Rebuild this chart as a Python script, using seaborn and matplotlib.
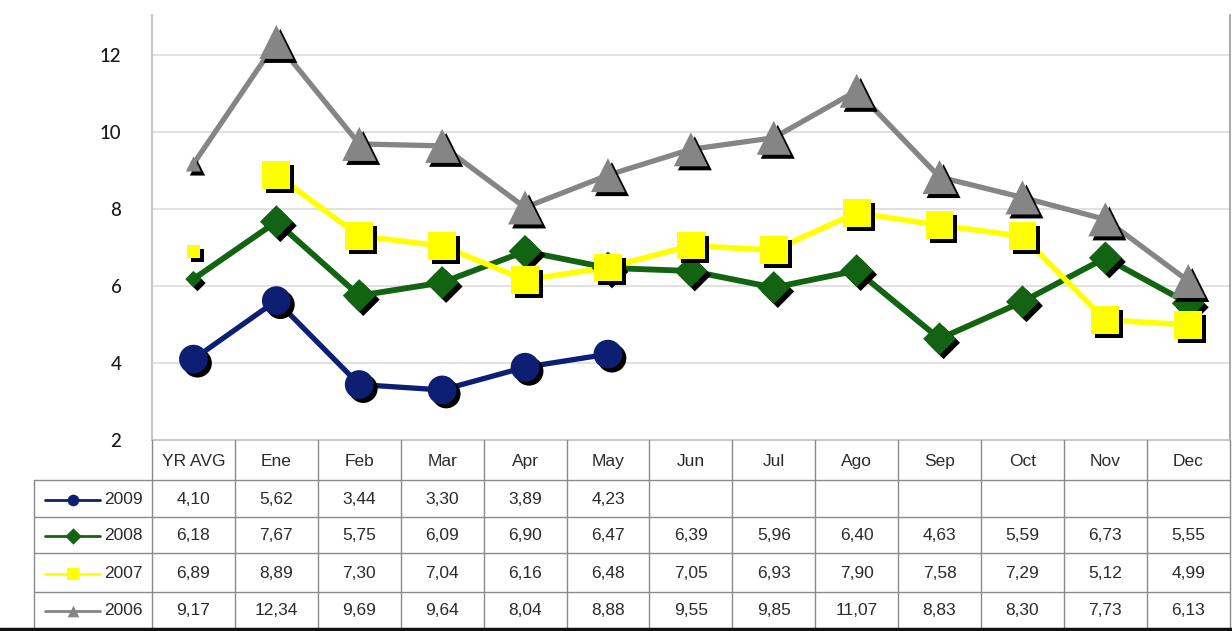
import numpy as np
import pandas as pd
import matplotlib
matplotlib.use("Agg")
import matplotlib.pyplot as plt
import seaborn as sns
from matplotlib.transforms import offset_copy
from matplotlib.lines import Line2D

# ---- data ----
categories = ["YR AVG", "Ene", "Feb", "Mar", "Apr", "May", "Jun",
              "Jul", "Ago", "Sep", "Oct", "Nov", "Dec"]
years = ["2009", "2008", "2007", "2006"]
v2009 = [4.10, 5.62, 3.44, 3.30, 3.89, 4.23] + [np.nan] * 7
v2008 = [6.18, 7.67, 5.75, 6.09, 6.90, 6.47, 6.39, 5.96, 6.40, 4.63, 5.59, 6.73, 5.55]
v2007 = [6.89, 8.89, 7.30, 7.04, 6.16, 6.48, 7.05, 6.93, 7.90, 7.58, 7.29, 5.12, 4.99]
v2006 = [9.17, 12.34, 9.69, 9.64, 8.04, 8.88, 9.55, 9.85, 11.07, 8.83, 8.30, 7.73, 6.13]
yticks = [2, 4, 6, 8, 10, 12]

values = {"2009": v2009, "2008": v2008, "2007": v2007, "2006": v2006}
style = {
    # color, marker, size, first-point size, line width, connect first point
    "2009": dict(color="#0c1f72", marker="o", s=430, s0=430, lw=3.8, connect=True),
    "2008": dict(color="#126312", marker="D", s=280, s0=70, lw=4.2, connect=True),
    "2007": dict(color="#ffff00", marker="s", s=400, s0=90, lw=4.0, connect=False),
    "2006": dict(color="#858585", marker="^", s=600, s0=120, lw=3.8, connect=True),
}
draw_order = ["2009", "2008", "2007", "2006"]

W, H = 1232, 631
sns.set_theme(style="white")
plt.rcParams["font.family"] = ["Liberation Sans", "DejaVu Sans"]
fig = plt.figure(figsize=(W / 100, H / 100), dpi=100)
fig.patch.set_facecolor("white")

# pixel geometry of the chart area and the data table beneath it
x_left, col_w = 152, 82.9
ax_top, ax_bot = 15, 440
ax = fig.add_axes([x_left / W, 1 - ax_bot / H, 13 * col_w / W, (ax_bot - ax_top) / H])

xs = np.arange(len(categories))
frames = {yr: pd.DataFrame({"x": xs, "y": values[yr]}).dropna() for yr in years}

# connecting lines first
for yr in draw_order:
    st = style[yr]
    df = frames[yr]
    line_df = df if st["connect"] else df.iloc[1:]
    sns.lineplot(data=line_df, x="x", y="y", color=st["color"], lw=st["lw"],
                 ax=ax, legend=False, zorder=3, estimator=None, sort=False)

# markers with a drop shadow on top
shadow = offset_copy(ax.transData, fig=fig, x=4, y=-4, units="dots")
for k, yr in enumerate(draw_order):
    st = style[yr]
    df = frames[yr]
    sizes = [st["s0"]] + [st["s"]] * (len(df) - 1)
    ax.scatter(df["x"], df["y"], s=sizes, marker=st["marker"], color="black",
               linewidths=0, transform=shadow, zorder=4 + 2 * k)
    ax.scatter(df["x"], df["y"], s=sizes, marker=st["marker"], color=st["color"],
               linewidths=0, zorder=5 + 2 * k)

ax.set_xlim(-0.5, 12.5)
ax.set_ylim(2, 2 + (ax_bot - ax_top) / 38.5)
ax.set_yticks(yticks)
ax.set_yticklabels([str(t) for t in yticks], fontsize=13.5, color="#1a1a1a",
                   family=["Lato", "DejaVu Sans"], fontweight="medium")
ax.tick_params(axis="y", length=0, pad=22)
ax.set_xticks([])
ax.set_xlabel("")
ax.set_ylabel("")
for t in yticks[1:]:
    ax.axhline(t, color="#dcdcdc", lw=1.2, zorder=1)
ax.spines["top"].set_visible(False)
ax.spines["right"].set_color("#9a9a9a")
ax.spines["right"].set_linewidth(1.2)
ax.spines["left"].set_color("#c8c8c8")
ax.spines["left"].set_linewidth(1.5)
ax.spines["bottom"].set_color("#bdbdbd")
ax.spines["bottom"].set_linewidth(1.2)

# ---- data table ----
tab_left, tab_bot = 34, 627
tab = fig.add_axes([tab_left / W, 1 - tab_bot / H, (x_left + 13 * col_w - tab_left) / W,
                    (tab_bot - ax_bot) / H])
x0 = -0.5 - (x_left - tab_left) / col_w
tab.set_xlim(x0, 12.5)
tab.set_ylim(tab_bot, ax_bot)
tab.axis("off")

row_edges = [ax_bot, 480, 517, 553, 592, tab_bot]
grid_c = "#8a8a8a"
for k in range(14):
    tab.plot([k - 0.5, k - 0.5], [ax_bot, tab_bot], color=grid_c, lw=1.0, clip_on=False)
tab.plot([x0, x0], [row_edges[1], tab_bot], color=grid_c, lw=1.0, clip_on=False)
for yline in row_edges[1:5]:
    tab.plot([x0, 12.5], [yline, yline], color=grid_c, lw=1.0, clip_on=False)

txt_c = "#2b2b2b"
for i, c in enumerate(categories):
    tab.text(i, (row_edges[0] + row_edges[1]) / 2 + 1, c, ha="center", va="center",
             fontsize=12.5, color=txt_c)

for r, yr in enumerate(years):
    yc = (row_edges[r + 1] + row_edges[r + 2]) / 2 + 1
    st = style[yr]
    lx0 = -0.5 + (45 - x_left) / col_w
    lx1 = -0.5 + (100 - x_left) / col_w
    lxm = -0.5 + (73 - x_left) / col_w
    tab.plot([lx0, lx1], [yc, yc], color=st["color"], lw=2.0)
    tab.scatter([lxm], [yc], marker=st["marker"], s=70, color=st["color"], zorder=3,
                linewidths=0)
    tab.text(-0.5 + (104 - x_left) / col_w, yc, yr, ha="left", va="center",
             fontsize=12.5, color=txt_c)
    for i, v in enumerate(values[yr]):
        if np.isnan(v):
            continue
        tab.text(i, yc, f"{v:.2f}".replace(".", ","), ha="center", va="center",
                 fontsize=12.5, color=txt_c)

fig.add_artist(Line2D([0, 1], [1 - 629 / H, 1 - 629 / H], color="#111111", lw=2.5))

fig.savefig("out.png", dpi=100, facecolor="white")
